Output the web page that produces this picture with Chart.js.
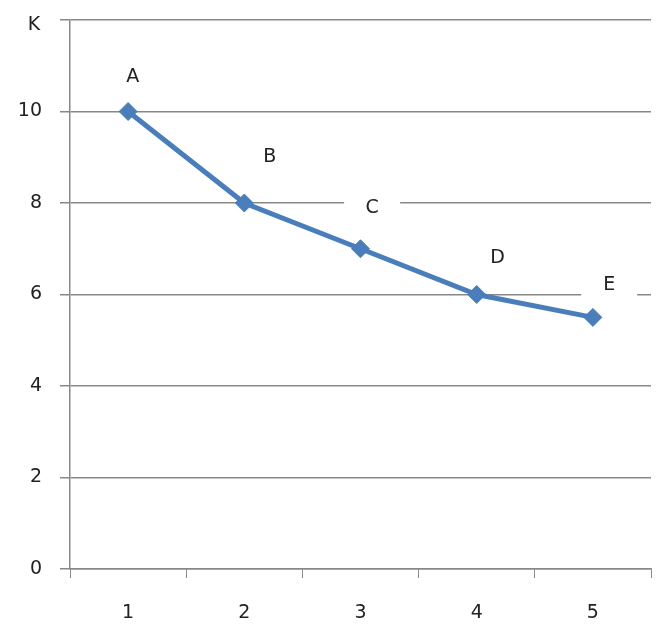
<!DOCTYPE html>
<html>
<head>
<meta charset="utf-8">
<script src="https://cdn.jsdelivr.net/npm/chart.js@4/dist/chart.umd.min.js"></script>
<style>
html,body{margin:0;padding:0;background:#fff;}
#wrap{width:665px;height:628px;position:relative;}
</style>
</head>
<body>
<div id="wrap"><canvas id="c" width="665" height="628"></canvas></div>
<script>
const categories = ['1', '2', '3', '4', '5'];
const values = [10, 8, 7, 6, 5.5];
const pointNames = ['A', 'B', 'C', 'D', 'E'];
// label anchor positions in data units (category number, value)
const labelX = [1.04, 2.22, 3.1, 4.18, 5.14];
const labelY = [10.75, 9.0, 7.9, 6.8, 6.2];
const yTicks = [0, 2, 4, 6, 8, 10, 12];
const yAxisTitle = 'K';
const xAxisTitle = 'L';

const FONT = '"DejaVu Sans", Verdana, sans-serif';
const TEXT = '#222';
const FS = 19;

const labelPlugin = {
  id: 'labels',
  afterDatasetsDraw(chart) {
    const ctx = chart.ctx;
    const xs = chart.scales.x, ys = chart.scales.y;
    ctx.save();
    ctx.font = FS + 'px ' + FONT;
    ctx.textAlign = 'center';
    ctx.textBaseline = 'middle';
    pointNames.forEach((n, i) => {
      const i0 = Math.floor(labelX[i]) - 1;
      const frac = labelX[i] - Math.floor(labelX[i]);
      const x0 = xs.getPixelForValue(i0);
      const x1 = xs.getPixelForValue(i0 + 1);
      const px = x0 + (x1 - x0) * frac;
      const py = ys.getPixelForValue(labelY[i]);
      ctx.fillStyle = '#fff';
      ctx.fillRect(px - 28, py - 13, 56, 26);
      ctx.fillStyle = TEXT;
      ctx.fillText(n, px, py);
    });
    // axis titles
    ctx.textAlign = 'center';
    ctx.fillText(yAxisTitle, 34, ys.getPixelForValue(12) + 5);
    ctx.fillText(xAxisTitle, 659, xs.bottom + 46);
    ctx.restore();
  }
};

new Chart(document.getElementById('c'), {
  type: 'line',
  data: {
    labels: categories,
    datasets: [{
      data: values,
      borderColor: '#4a7ebb',
      backgroundColor: '#4a7ebb',
      borderWidth: 5,
      pointStyle: 'rectRot',
      pointRadius: 9,
      pointHoverRadius: 9,
      pointBorderWidth: 1,
      tension: 0,
      fill: false
    }]
  },
  options: {
    responsive: false,
    animation: false,
    events: [],
    layout: { padding: { top: 0, right: 14, left: 0, bottom: 0 } },
    plugins: { legend: { display: false }, tooltip: { enabled: false } },
    scales: {
      x: {
        offset: true,
        afterFit(s) { s.height = 59; },
        grid: { offset: true, drawOnChartArea: false, drawTicks: true, tickLength: 9, color: '#888', lineWidth: 1 },
        border: { color: '#888', width: 1.5 },
        ticks: { padding: 24, color: TEXT, font: { family: FONT, size: FS }, maxRotation: 0 }
      },
      y: {
        min: 0, max: 12,
        afterFit(s) { s.width = 70; s.paddingTop = 20; },
        afterBuildTicks(s) { s.ticks = yTicks.map(v => ({ value: v })); },
        grid: { color: '#888', lineWidth: 1.5, tickLength: 10 },
        border: { color: '#888', width: 1.5 },
        ticks: {
          padding: 18, color: TEXT, font: { family: FONT, size: FS },
          callback: v => (v === 12 ? '' : String(v))
        }
      }
    }
  },
  plugins: [labelPlugin]
});
</script>
</body>
</html>
